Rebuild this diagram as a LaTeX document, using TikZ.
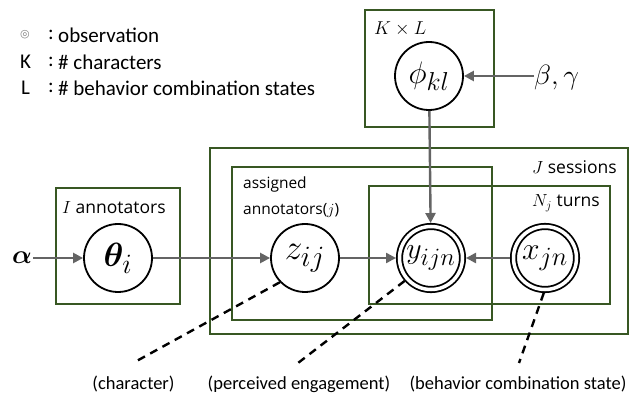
\RequirePackage{fix-cm}
\documentclass[tikz,border=0pt]{standalone}
\usepackage{amsmath,bm,graphicx}
\usepackage{fontspec}
\setmainfont{Carlito}
\newfontfamily\platefont{Open Sans}
\newfontfamily\symfont{DejaVu Sans}
\usetikzlibrary{arrows.meta}
\definecolor{plategreen}{RGB}{56,87,35}
\definecolor{arrowgray}{RGB}{100,100,100}
\newcommand{\mathbig}[2]{\scalebox{#1}{$#2$}}
\begin{document}
\begin{tikzpicture}[x=1pt,y=-1pt,
  plate/.style={draw=plategreen,line width=2pt},
  rv/.style={circle,draw=black,line width=1.8pt,minimum size=68pt,inner sep=0pt,
    font=\fontsize{24.88}{28}\selectfont},
  obs/.style={rv,double,double distance=3.5pt,minimum size=63pt,outer sep=3.5pt},
  arr/.style={draw=arrowgray,line width=2.4pt,-{Triangle[length=10pt,width=10pt]}},
  lead/.style={draw=black,line width=2.4pt,dash pattern=on 8pt off 6pt},
  legend/.style={anchor=west,font=\fontsize{21}{25}\selectfont,inner sep=0pt},
  caption/.style={anchor=base,font=\fontsize{18.5}{22}\selectfont,inner sep=0pt},
  platelabel/.style={inner sep=0pt,font=\platefont\fontsize{17.5}{21}\selectfont},
  smalllabel/.style={inner sep=0pt,anchor=west,font=\platefont\fontsize{15.5}{19}\selectfont}]
\useasboundingbox (0,0) rectangle (641,393);

% legend
\node[inner sep=0pt,font=\symfont\fontsize{11}{13}\selectfont,text=gray] (lsym) at (25,35) {◎};
\node[legend] (lk) at (20,62) {K};
\node[legend] (ll) at (21,88) {L};
\node[legend] (c1) at (48,35) {:};
\node[legend] (c2) at (48,62) {:};
\node[legend] (c3) at (48,88) {:};
\node[legend] (t1) at (58,35) {observation};
\node[legend] (t2) at (58,62) {\# characters};
\node[legend] (t3) at (58,88) {\# behavior combination states};

% plates
\draw[plate] (365,10) rectangle (494,127);
\draw[plate] (56,188) rectangle (180,304);
\draw[plate] (210,148) rectangle (628,334);
\draw[plate] (232,167) rectangle (492,320);
\draw[plate] (369,186) rectangle (610,304);

\node[inner sep=0pt,anchor=west,font=\fontsize{20.74}{24}\selectfont] (klab) at (374,29) {\mathbig{0.9}{K\times L}};
\node[platelabel,anchor=west] (ilab) at (62,208) {$I$ annotators};
\node[smalllabel] (alab1) at (243,184) {assigned};
\node[smalllabel] (alab2) at (243,210) {annotators($j$)};
\node[platelabel,anchor=east] (jlab) at (617,167) {$J$ sessions};
\node[platelabel,anchor=east] (nlab) at (600,203) {$N_j$ turns};

% variables
\node[rv] (phi) at (429,76) {\mathbig{1.25}{\phi_{kl}}};
\node[rv] (theta) at (118,258) {\mathbig{1.35}{\bm{\theta}_i}};
\node[rv] (z) at (305,258) {\mathbig{1.42}{z_{ij}}};
\node[obs] (y) at (431,258) {\mathbig{1.2}{y_{ijn}}};
\node[obs] (x) at (545,258) {\mathbig{1.27}{x_{jn}}};
\node[inner sep=1pt,font=\fontsize{24.88}{28}\selectfont] (alpha) at (22,258) {\mathbig{1.05}{\bm{\alpha}}};
\node[inner sep=0pt,anchor=west,font=\fontsize{24.88}{28}\selectfont] (bg) at (534,78) {\mathbig{1.12}{\beta,\gamma}};

% arrows
\draw[arr] (alpha) -- (theta);
\draw[arr] (theta) -- (z);
\draw[arr] (z) -- (y);
\draw[arr] (x) -- (y);
\draw[arr] (phi) -- (y);
\draw[arr] (bg.west |- phi) -- (phi);

% leaders
\coordinate (e1) at (133,363);
\coordinate (e2) at (298,363);
\coordinate (e3) at (519,363);
\draw[lead] (z.224) -- (e1);
\draw[lead] (y.221) -- (e2);
\draw[lead] (x.268) -- (e3);

\node[caption] (cap1) at (133.5,389) {(character)};
\node[caption] (cap2) at (299,389) {(perceived engagement)};
\node[caption] (cap3) at (518,389) {(behavior combination state)};
\end{tikzpicture}
\end{document}
